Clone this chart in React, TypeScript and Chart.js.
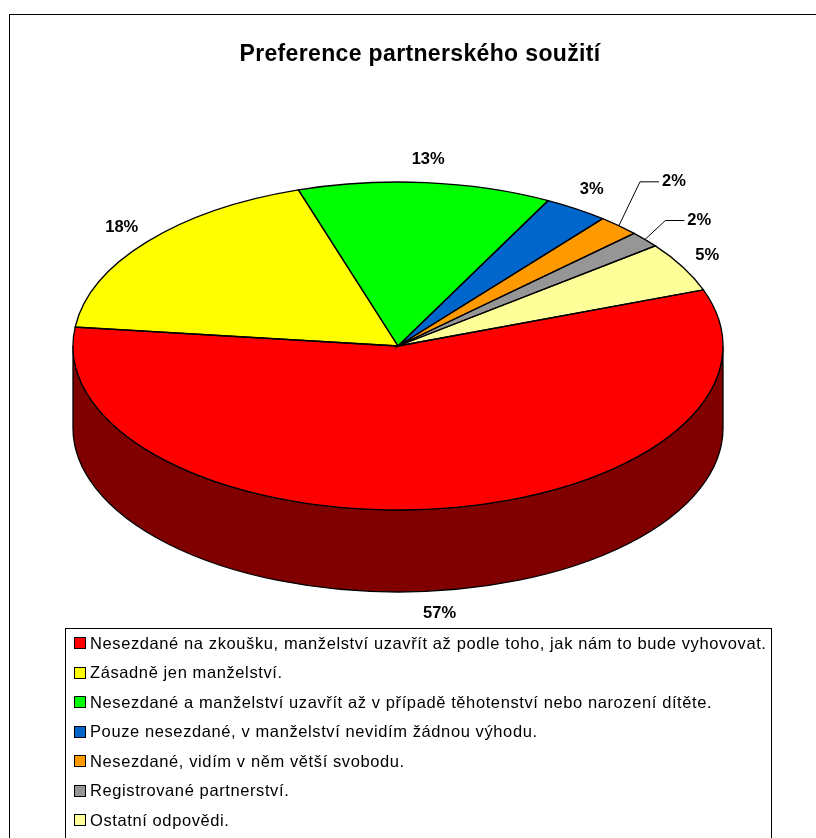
import React, { useEffect, useRef } from "react";
import { Chart, registerables } from "chart.js";

Chart.register(...registerables);

// ---- data ----
const title = "Preference partnerského soužití";
const categories = [
  "Nesezdané na zkoušku, manželství uzavřít až podle toho, jak nám to bude vyhovovat.",
  "Zásadně jen manželství.",
  "Nesezdané a manželství uzavřít až v případě těhotenství nebo narození dítěte.",
  "Pouze nesezdané, v manželství nevidím žádnou výhodu.",
  "Nesezdané, vidím v něm větší svobodu.",
  "Registrované partnerství.",
  "Ostatní odpovědi.",
];
const shares = [57.4, 18.2, 12.6, 3.2, 2.1, 1.6, 4.9];
const topColors = ["#FF0000", "#FFFF00", "#00FF00", "#0066CC", "#FF9900", "#969696", "#FFFF99"];
const sideColors = ["#800000", "#808000", "#008000", "#003366", "#804C00", "#4B4B4B", "#80804C"];

// ---- layout / styling (not data) ----
const W = 816;
const H = 838;
const CX = 398;
const CY = 346;
const RX = 325;
const RY = 164;
const DEPTH = 82;
const FONT = "'Liberation Sans', Arial, Helvetica, sans-serif";
const labelNudges: Record<number, [number, number]> = { 4: [36, -27], 5: [33, -4] };

const pie3d = {
  id: "pie3d",
  beforeDatasetsDraw(chart: any) {
    const ctx: CanvasRenderingContext2D = chart.ctx;
    const meta = chart.getDatasetMeta(0);
    const arcs = meta.data as any[];
    if (!arcs.length) return;
    const { x: cx, y: cy, outerRadius: rx } = arcs[0].getProps(["x", "y", "outerRadius"], true);
    const ry = rx * (RY / RX);
    // side walls (front half only)
    arcs.forEach((arc: any, i: number) => {
      const { startAngle, endAngle } = arc.getProps(["startAngle", "endAngle"], true);
      for (const off of [-2 * Math.PI, 0, 2 * Math.PI]) {
        const a = Math.max(startAngle, off);
        const b = Math.min(endAngle, off + Math.PI);
        if (b > a) {
          const s = a - off;
          const e = b - off;
          ctx.save();
          ctx.beginPath();
          ctx.ellipse(cx, cy, rx, ry, 0, s, e, false);
          ctx.lineTo(cx + rx * Math.cos(e), cy + DEPTH + ry * Math.sin(e));
          ctx.ellipse(cx, cy + DEPTH, rx, ry, 0, e, s, true);
          ctx.closePath();
          ctx.fillStyle = sideColors[i];
          ctx.fill();
          ctx.lineWidth = 1.3;
          ctx.strokeStyle = "#000";
          ctx.stroke();
          ctx.restore();
        }
      }
    });
    // squash the top face drawn by Chart.js into an ellipse
    ctx.save();
    ctx.translate(cx, cy);
    ctx.scale(1, ry / rx);
    ctx.translate(-cx, -cy);
  },
  afterDatasetsDraw(chart: any) {
    const ctx: CanvasRenderingContext2D = chart.ctx;
    ctx.restore();
    const meta = chart.getDatasetMeta(0);
    const arcs = meta.data as any[];
    if (!arcs.length) return;
    const { x: cx, y: cy, outerRadius: rx } = arcs[0].getProps(["x", "y", "outerRadius"], true);
    const ry = rx * (RY / RX);
    const values: number[] = chart.data.datasets[0].data;
    const total = values.reduce((s, v) => s + v, 0);
    // outlines
    arcs.forEach((arc: any) => {
      const { startAngle, endAngle } = arc.getProps(["startAngle", "endAngle"], true);
      ctx.save();
      ctx.beginPath();
      ctx.moveTo(cx, cy);
      ctx.ellipse(cx, cy, rx, ry, 0, startAngle, endAngle, false);
      ctx.closePath();
      ctx.lineWidth = 1.3;
      ctx.strokeStyle = "#000";
      ctx.stroke();
      ctx.restore();
    });
    // labels
    ctx.save();
    ctx.font = `bold 16.5px ${FONT}`;
    ctx.fillStyle = "#000";
    ctx.textAlign = "center";
    ctx.textBaseline = "middle";
    arcs.forEach((arc: any, i: number) => {
      const { startAngle, endAngle } = arc.getProps(["startAngle", "endAngle"], true);
      const mid = (startAngle + endAngle) / 2;
      const c = Math.cos(mid);
      const s = Math.sin(mid);
      const text = Math.round((values[i] / total) * 100) + "%";
      const tw = ctx.measureText(text).width;
      const th = 14;
      const d = 16;
      const dep = s > 0 ? DEPTH : 0;
      let lx = cx + (rx + d) * c + (c * tw) / 2;
      let ly = cy + dep + (ry + d) * s + (s * th) / 2;
      const nudge = labelNudges[i];
      if (nudge) {
        lx += nudge[0];
        ly += nudge[1];
        const ex = cx + rx * c;
        const ey = cy + ry * s;
        const endX = lx - tw / 2 - 3;
        ctx.beginPath();
        ctx.moveTo(ex, ey);
        ctx.lineTo(endX - 19, ly);
        ctx.lineTo(endX, ly);
        ctx.lineWidth = 1;
        ctx.strokeStyle = "#000";
        ctx.stroke();
      }
      ctx.fillText(text, lx, ly);
    });
    ctx.restore();
  },
  afterDraw(chart: any) {
    const ctx: any = chart.ctx;
    ctx.save();
    // outer frame
    ctx.strokeStyle = "#000";
    ctx.lineWidth = 1;
    ctx.strokeRect(9.5, 14.5, 900, 900);
    // title
    ctx.fillStyle = "#000";
    ctx.font = `bold 23px ${FONT}`;
    ctx.letterSpacing = "0.35px";
    ctx.textAlign = "center";
    ctx.textBaseline = "alphabetic";
    ctx.fillText(title, 420, 61);
    // legend box
    ctx.letterSpacing = "0px";
    ctx.strokeStyle = "#000";
    ctx.strokeRect(65.5, 628.5, 706, 300);
    ctx.font = `16.5px ${FONT}`;
    ctx.letterSpacing = "0.6px";
    ctx.textAlign = "left";
    ctx.textBaseline = "middle";
    const labels: string[] = chart.data.labels;
    labels.forEach((lab, i) => {
      const y = 643 + i * 29.5;
      ctx.fillStyle = topColors[i];
      ctx.fillRect(75, Math.round(y) - 5, 10, 10);
      ctx.strokeStyle = "#000";
      ctx.strokeRect(74.5, Math.round(y) - 5.5, 11, 11);
      ctx.fillStyle = "#000";
      ctx.fillText(lab, 90, y + 1);
    });
    ctx.restore();
  },
};

export default function App() {
  const ref = useRef<HTMLCanvasElement | null>(null);
  useEffect(() => {
    if (!ref.current) return;
    const chart = new Chart(ref.current, {
      type: "pie",
      data: {
        labels: categories,
        datasets: [
          {
            data: shares,
            backgroundColor: topColors,
            borderWidth: 0,
            radius: RX,
            clip: false,
          } as any,
        ],
      },
      options: {
        animation: false,
        responsive: false,
        devicePixelRatio: 1,
        rotation: 70,
        layout: { padding: { left: 0, top: 0, right: W - 2 * CX, bottom: H - 2 * CY } },
        plugins: {
          legend: { display: false },
          title: { display: false },
          tooltip: { enabled: false },
        },
        events: [],
      } as any,
      plugins: [pie3d],
    });
    return () => chart.destroy();
  }, []);
  return (
    <div style={{ position: "absolute", left: 0, top: 0, width: W, height: H, background: "#fff" }}>
      <canvas ref={ref} width={W} height={H} style={{ display: "block", width: W, height: H }} />
    </div>
  );
}
